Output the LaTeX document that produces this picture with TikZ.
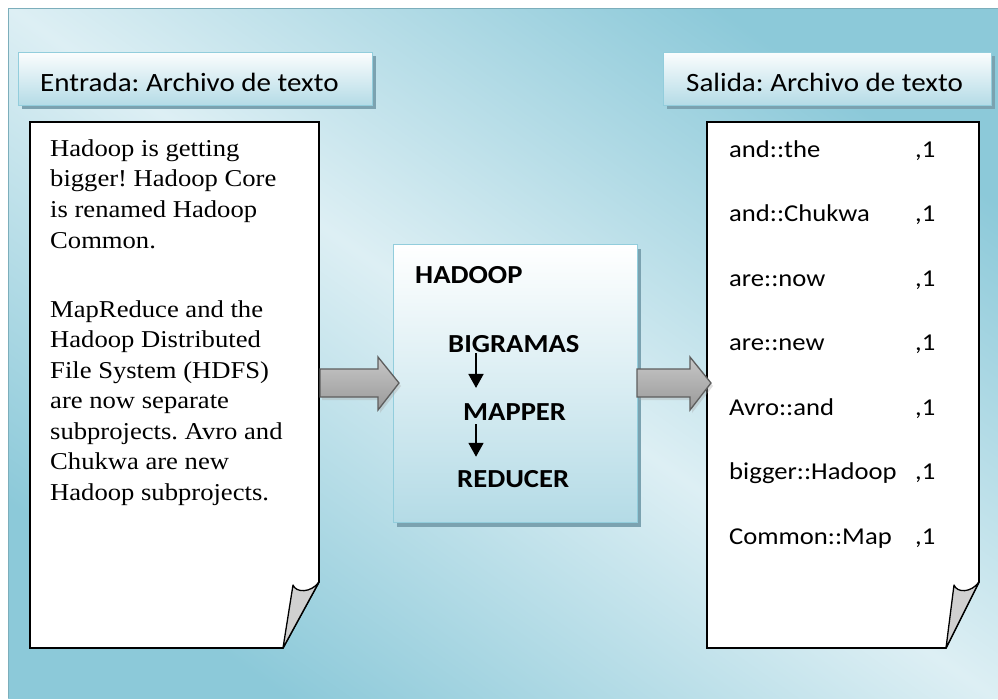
\documentclass[tikz,border=0pt]{standalone}
\usepackage{fontspec}
\newfontfamily\timesf{Liberation Serif}[FakeStretch=1.1]
\newfontfamily\calib{Carlito}[FakeStretch=1.1]
\frenchspacing
\usetikzlibrary{arrows.meta,calc,shadows}
\definecolor{bgdark}{HTML}{8CC9D9}
\definecolor{bglight}{HTML}{DDEFF4}
\definecolor{boxedge}{HTML}{92CDDC}
\definecolor{boxbot}{HTML}{B4DBE6}
\definecolor{shadowc}{HTML}{7BA2B0}
\definecolor{curlc}{HTML}{D0D0D0}
\definecolor{arrline}{HTML}{5E5E5E}
\tikzset{
  hdrbox/.style={draw=boxedge, line width=1.2pt, top color=white!94!boxbot, bottom color=boxbot,
    rectangle, inner sep=0pt, anchor=north west,
    drop shadow={shadow xshift=3pt, shadow yshift=-3pt, fill=shadowc, opacity=1}},
  hadoopbox/.style={draw=boxedge, line width=1.2pt, top color=white, bottom color=boxbot,
    rectangle, inner sep=0pt, anchor=north west,
    drop shadow={shadow xshift=3pt, shadow yshift=-4pt, fill=shadowc, opacity=1}},
  hdrtxt/.style={font=\calib\frenchspacing\fontsize{26.4}{30}\selectfont, anchor=base west, inner sep=0pt},
  boldtxt/.style={font=\calib\bfseries\fontsize{26}{30}\selectfont, anchor=base west, inner sep=0pt},
  outtxt/.style={font=\calib\frenchspacing\fontsize{24.2}{30}\selectfont, anchor=base west, inner sep=0pt},
  intxt/.style={font=\timesf\frenchspacing\fontsize{24.2}{30}\selectfont, anchor=base west, inner sep=0pt},
  docpage/.style={draw=black, line width=1.6pt, fill=white, line join=miter},
  curlst/.style={draw=black, line width=1.3pt, fill=curlc, line join=round},
  blockarr/.style={draw=arrline, line width=1.3pt, top color=black!22, middle color=black!3, bottom color=black!40},
  blockshadow/.style={fill=black!35, opacity=0.35},
  smallarr/.style={line width=1.8pt, -{Triangle[width=15pt,length=14pt]}}
}
\newcommand\blkarrow[2]{%
  \fill[blockshadow] ($(#1)+(2,-11)$) -- ($(#2)+(-19,-11)$) -- ($(#2)+(-19,-23)$) -- ($(#2)+(2,3)$)
     -- ($(#2)+(-19,30)$) -- ($(#2)+(-19,17)$) -- ($(#1)+(2,17)$) -- cycle;
  \draw[blockarr] ($(#1)+(0,-14)$) -- ($(#2)+(-21,-14)$) -- ($(#2)+(-21,-26)$) -- (#2)
     -- ($(#2)+(-21,27)$) -- ($(#2)+(-21,14)$) -- ($(#1)+(0,14)$) -- cycle;}
\begin{document}
\begin{tikzpicture}[x=1pt,y=-1pt]
\useasboundingbox (0,0) rectangle (998,699);
% background
\path[top color=bgdark, bottom color=bgdark, middle color=bglight, shading angle=-35] (8,8) rectangle (998,698);
\draw[boxedge!85!black, line width=1pt] (8.5,698) -- (8.5,8.5) -- (998,8.5);
% headers
\node[hdrbox, minimum width=354pt, minimum height=53pt] (inhdr) at (18,52) {};
\node[hdrtxt] (inhdrtxt) at (40,91) {Entrada: Archivo de texto};
\node[hdrbox, minimum width=328pt, minimum height=53pt] (outhdr) at (663,52) {};
\node[hdrtxt] (outhdrtxt) at (686,91) {Salida: Archivo de texto};
% input document
\draw[docpage] (30,122) -- (319,122) -- (319,582) -- (283,648) -- (30,648) -- cycle;
\draw[curlst] (319,582) -- (283,648) -- (293,585) .. controls (296,593) and (311,593) .. (319,582) -- cycle;
\coordinate (indocE) at (320,383);
\foreach \y/\t in {156/{Hadoop is getting},186.7/{bigger! Hadoop Core},217.4/{is renamed Hadoop},248/{Common.},
  317/{MapReduce and the},347.5/{Hadoop Distributed},378/{File System (HDFS)},408.5/{are now separate},
  439/{subprojects. Avro and},469.5/{Chukwa are new},500/{Hadoop subprojects.}}
  \node[intxt] at (50,\y) {\t};
% output document
\draw[docpage] (707,122) -- (979,122) -- (979,582) -- (946,648) -- (707,648) -- cycle;
\draw[curlst] (979,582) -- (946,648) -- (954,585) .. controls (957,593) and (971,593) .. (979,582) -- cycle;
\coordinate (outdocW) at (711,383);
\foreach \y/\t in {157/{and::the},221.5/{and::Chukwa},286/{are::now},350.5/{are::new},415/{Avro::and},479.5/{bigger::Hadoop},544/{Common::Map}}{
  \node[outtxt] at (729,\y) {\t};
  \node[outtxt] at (915,\y) {,1};
}
% hadoop box
\node[hadoopbox, minimum width=244pt, minimum height=278pt] (hadoop) at (393,244) {};
\node[boldtxt] (hadooptxt) at (415,283) {HADOOP};
\node[boldtxt] (bigr) at (448,352) {BIGRAMAS};
\node[boldtxt] (mapper) at (463,420) {MAPPER};
\node[boldtxt] (reducer) at (457,487) {REDUCER};
\coordinate (ax) at (476,0);
\draw[smallarr, shorten <=1pt, shorten >=15pt] (bigr.south -| ax) -- (mapper.north -| ax);
\draw[smallarr, shorten <=4pt, shorten >=13pt] (mapper.south -| ax) -- (reducer.north -| ax);
% block arrows
\coordinate (hadoopW) at (399,383);
\coordinate (hadoopE) at (637,383);
\blkarrow{indocE}{hadoopW}
\blkarrow{hadoopE}{outdocW}
\end{tikzpicture}
\end{document}
